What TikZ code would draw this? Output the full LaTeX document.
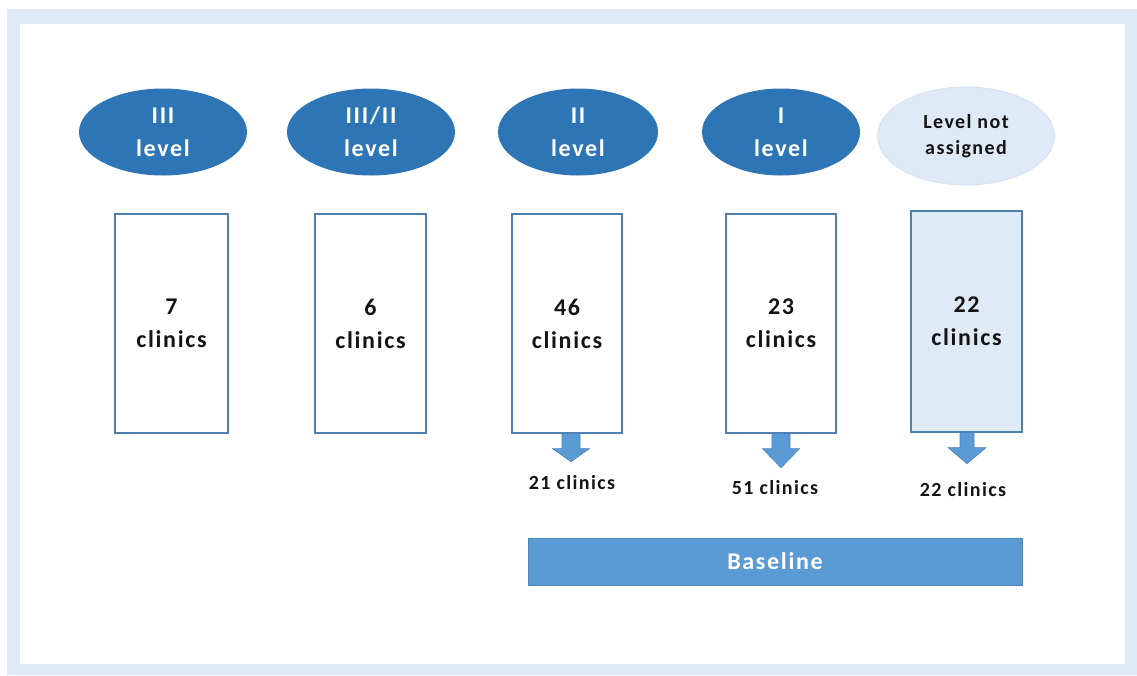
\documentclass[tikz,border=0pt]{standalone}
\usepackage{fontspec}
\setmainfont{Carlito}[LetterSpace=7.0]
\usetikzlibrary{shapes.geometric}
\definecolor{frameblue}{HTML}{DEEAF6}
\definecolor{darkblue}{HTML}{2E75B6}
\definecolor{lightfill}{HTML}{DEEAF6}
\definecolor{lightedge}{HTML}{D2E0F0}
\definecolor{boxedge}{HTML}{4F7FB0}
\definecolor{midblue}{HTML}{5B9BD5}
\definecolor{midedge}{HTML}{4A82BC}
\definecolor{txt}{HTML}{141414}
\tikzset{
  lvl/.style={ellipse, fill=darkblue, text=white, inner sep=0pt, align=center,
    font=\fontsize{24}{33}\selectfont\bfseries},
  lvllight/.style={ellipse, fill=lightfill, draw=lightedge, line width=0.8pt, text=txt,
    inner sep=0pt, align=center, font=\fontsize{20}{26}\selectfont\bfseries},
  clinicbox/.style={rectangle, draw=boxedge, line width=1.3pt, fill=white, text=txt,
    inner sep=0pt, align=center, font=\fontsize{24}{33}\selectfont\bfseries},
  countlabel/.style={text=txt, inner sep=0pt, font=\fontsize{20}{24}\selectfont\bfseries},
  blockarrow/.style={fill=midblue, draw=midedge, line width=0.6pt, line join=miter},
  basebar/.style={rectangle, fill=midblue, draw=midedge, line width=1pt, text=white,
    inner sep=0pt, font=\fontsize{24}{28}\selectfont\bfseries}
}
\begin{document}
\begin{tikzpicture}[x=1pt,y=-1pt]
\useasboundingbox (0,0) rectangle (1137,675);
\fill[white] (0,0) rectangle (1137,675);
\fill[frameblue] (7,9) rectangle (1137,675);
\fill[white] (20,24) rectangle (1125,664);

% level ellipses
\node[lvl, minimum width=168pt, minimum height=87pt] (e1) at (163,132) {III\\level};
\node[lvl, minimum width=168pt, minimum height=87pt] (e2) at (371,132) {III/II\\level};
\node[lvl, minimum width=160pt, minimum height=87pt] (e3) at (578,132) {II\\level};
\node[lvl, minimum width=158pt, minimum height=87pt] (e4) at (781,132) {I\\level};
\node[lvllight, minimum width=177pt, minimum height=98pt] (e5) at (966,136) {Level not\\assigned};

% clinic boxes
\node[clinicbox, minimum width=113pt, minimum height=219pt] (b1) at (171.5,323.5) {7\\clinics};
\node[clinicbox, minimum width=111pt, minimum height=219pt] (b2) at (370.5,323.5) {6\\clinics};
\node[clinicbox, minimum width=110pt, minimum height=219pt] (b3) at (567,323.5) {46\\clinics};
\node[clinicbox, minimum width=110pt, minimum height=219pt] (b4) at (781,323.5) {23\\clinics};
\node[clinicbox, fill=lightfill, minimum width=111pt, minimum height=221pt] (b5) at (966.5,321.5) {22\\clinics};

% block arrows
\path[blockarrow] ([xshift=-5pt]b3.south) -- ++(0,15) -- ++(-9.5,0) -- ++(18.5,13)
  -- ++(18.5,-13) -- ++(-9.5,0) -- ++(0,-15) -- cycle;
\path[blockarrow] ([xshift=-9pt]b4.south) -- ++(0,15) -- ++(-9.5,0) -- ++(18.5,19)
  -- ++(18.5,-19) -- ++(-9.5,0) -- ++(0,-15) -- cycle;
\path[blockarrow] ([xshift=-6.5pt]b5.south) -- ++(0,15) -- ++(-12,0) -- ++(19,16)
  -- ++(19,-16) -- ++(-12,0) -- ++(0,-15) -- cycle;

% counts
\node[countlabel] (l3) at (572,483) {21 clinics};
\node[countlabel] (l4) at (775,488) {51 clinics};
\node[countlabel] (l5) at (963,490) {22 clinics};

% baseline bar
\node[basebar, minimum width=494pt, minimum height=47pt] (bar) at (775,561.5) {Baseline};
\end{tikzpicture}
\end{document}
